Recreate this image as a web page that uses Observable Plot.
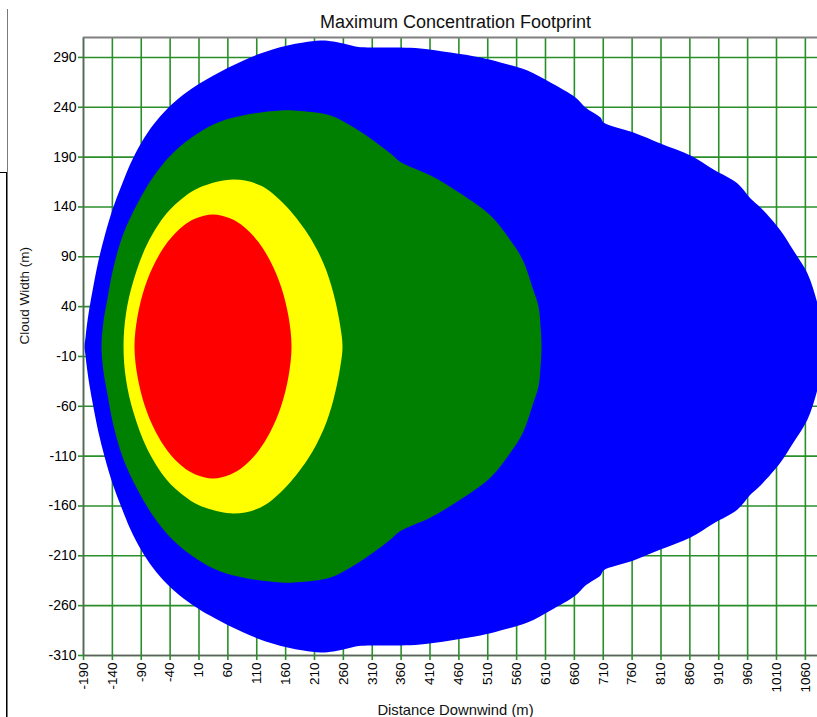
<!DOCTYPE html>
<html>
<head>
<meta charset="utf-8">
<script src="https://cdn.jsdelivr.net/npm/d3@7"></script>
<script src="https://cdn.jsdelivr.net/npm/@observablehq/plot@0.6"></script>
<style>
  html, body { margin: 0; padding: 0; background: #fff; overflow: hidden; }
  #wrap { position: relative; width: 817px; height: 717px; }
  .edge { position: absolute; }
</style>
</head>
<body>
<div id="wrap">
  <div class="edge" style="left:7px;top:9px;width:1px;height:708px;background:#7a7a7a"></div>
  <div class="edge" style="left:0px;top:172px;width:7px;height:1px;background:#000"></div>
  <div class="edge" style="left:6px;top:172px;width:1px;height:545px;background:#000"></div>
</div>
<script>
// ---- Data ----
const title = "Maximum Concentration Footprint";
const xLabel = "Distance Downwind (m)";
const yLabel = "Cloud Width (m)";

const xTicks = [-190, -140, -90, -40, 10, 60, 110, 160, 210, 260, 310, 360, 410, 460, 510, 560, 610, 660, 710, 760, 810, 860, 910, 960, 1010, 1060];
const yTicks = [-310, -260, -210, -160, -110, -60, -10, 40, 90, 140, 190, 240, 290];

// Zone boundaries: downwind distance and cloud half-width (footprint symmetric about 0)
const blueX    = [-188.3, -186.5, -184.8, -179.6, -172.7, -164.0, -153.6, -139.8, -124.2, -108.6, -89.6, -68.8, -44.5, -16.8, 10.9, 35.1, 61.1, 87.1, 111.3, 137.3, 163.3, 190.9, 220.4, 242.9, 260.2, 281.0, 301.7, 358.9, 393.5, 445.5, 497.4, 532.0, 578.8, 618.6, 661.9, 679.2, 705.2, 710.4, 762.4, 809.1, 861.1, 900.9, 942.5, 965.0, 982.3, 1016.9, 1039.4, 1063.7, 1081.0, 1089.7, 1093.1];
const blueHalf = [0, 9.0, 18.1, 39.1, 61.2, 86.3, 110.4, 137.4, 161.5, 183.6, 204.7, 222.7, 238.8, 252.8, 263.8, 271.9, 279.9, 286.9, 292.9, 298.0, 302.0, 305.0, 307.0, 306.0, 304.0, 301.0, 300.0, 300.0, 299.0, 294.9, 289.9, 284.9, 276.9, 264.8, 249.8, 239.8, 229.7, 224.7, 214.7, 203.7, 191.6, 177.6, 163.5, 148.5, 139.4, 116.4, 96.3, 73.2, 43.1, 21.1, 0];

const greenX    = [-158.8, -155.4, -148.4, -138.1, -120.7, -96.5, -68.8, -34.2, 7.4, 47.2, 94.0, 151.1, 185.8, 237.7, 272.3, 307.0, 341.6, 358.9, 410.9, 462.8, 514.8, 549.4, 570.2, 589.2, 597.9, 601.4, 603.1];
const greenHalf = [0, 25.1, 48.2, 79.3, 113.4, 143.5, 170.5, 194.6, 213.7, 225.7, 232.7, 236.8, 236.3, 231.7, 221.7, 208.7, 193.6, 185.1, 171.5, 153.5, 131.4, 106.3, 87.3, 56.2, 40.1, 20.1, 0];

const yellowX    = [-120.7, -116.4, -103.4, -79.2, -46.3, -16.8, 10.9, 69.7, 116.5, 156.3, 197.9, 225.6, 242.9, 255.0, 258.5];
const yellowHalf = [0, 33.1, 66.2, 103.3, 133.4, 149.5, 159.5, 167.5, 161.5, 143.5, 113.4, 83.3, 53.2, 19.1, 0];

const redX    = [-101.7, -96.5, -83.5, -65.3, -43.7, -18.6, 3.9, 34.2, 64.5, 87.1, 112.2, 133.8, 152.0, 165.0, 170.2];
const redHalf = [0, 30.1, 60.2, 85.3, 105.3, 120.4, 128.4, 132.4, 128.4, 120.4, 105.3, 85.3, 60.2, 30.1, 0];

const zones = [
  {name: "blue",   x: blueX,   h: blueHalf,   color: "#0000ff"},
  {name: "green",  x: greenX,  h: greenHalf,  color: "#008000"},
  {name: "yellow", x: yellowX, h: yellowHalf, color: "#ffff00"},
  {name: "red",    x: redX,    h: redHalf,    color: "#ff0000"}
];

// closed outline: upper edge left→right, mirrored lower edge right→left
const outline = z => {
  const upper = z.x.map((x, i) => ({x, y: z.h[i]}));
  const lower = z.x.map((x, i) => ({x, y: -z.h[i]})).filter(d => d.y !== 0).reverse();
  return upper.concat(lower);
};

const gridColor = "#2a8f2a";
const fmt = d => String(d);

const chart = Plot.plot({
  width: 817,
  height: 717,
  marginLeft: 83,
  marginRight: 0,
  marginTop: 37,
  marginBottom: 62,
  style: {fontFamily: "'Liberation Sans', Arial, sans-serif", fontSize: "14px", color: "#000", background: "transparent"},
  x: {domain: [-190, 1081]},
  y: {domain: [-310, 310]},
  marks: [
    Plot.gridX(xTicks, {stroke: gridColor, strokeOpacity: 1, strokeWidth: 1.6}),
    Plot.gridY(yTicks, {stroke: gridColor, strokeOpacity: 1, strokeWidth: 1.6}),
    ...zones.map(z => Plot.line(outline(z), {
      x: "x", y: "y", fill: z.color, stroke: "none", curve: "catmull-rom-closed", clip: true
    })),
    Plot.ruleX([-190], {stroke: "#606060", strokeWidth: 1.5}),
    Plot.ruleY([-310], {stroke: "#606060", strokeWidth: 1.5}),
    Plot.ruleY([310], {stroke: "#808080", strokeWidth: 2}),
    Plot.axisX(xTicks, {
      anchor: "bottom", tickRotate: -90, tickSize: 5, tickPadding: 2, tickFormat: fmt,
      stroke: gridColor, strokeWidth: 1.6, fill: "#000", fontSize: 13.5, label: null
    }),
    Plot.axisY(yTicks, {
      anchor: "left", tickSize: 5, tickPadding: 2, tickFormat: fmt,
      stroke: gridColor, strokeWidth: 1.6, fill: "#000", fontSize: 14, label: null
    }),
    Plot.text([title], {frameAnchor: "top", dx: 5, dy: -10, fontSize: 18, fill: "#111", lineAnchor: "bottom"}),
    Plot.text([xLabel], {frameAnchor: "bottom", dx: 5, dy: 59, fontSize: 14.8, fill: "#111", lineAnchor: "bottom"}),
    Plot.text([yLabel], {frameAnchor: "left", dx: -59, dy: -2, rotate: -90, fontSize: 13.5, fill: "#111"})
  ]
});

document.getElementById("wrap").appendChild(chart);
</script>
</body>
</html>
